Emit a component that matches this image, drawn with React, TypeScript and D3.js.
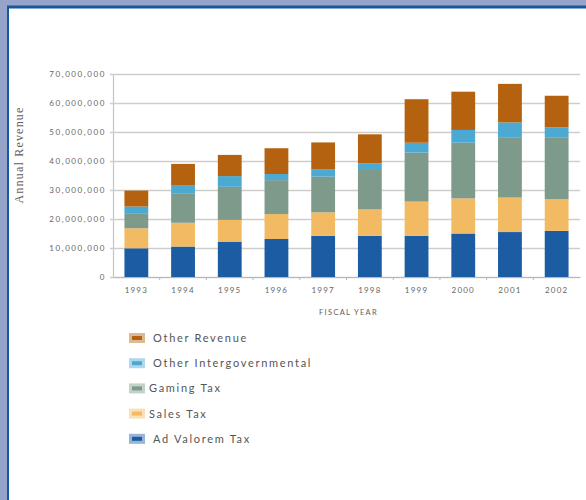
import { useEffect, useRef } from 'react';
import * as d3 from 'd3';

// fiscal years on the x axis
const years = ['1993', '1994', '1995', '1996', '1997', '1998', '1999', '2000', '2001', '2002'];

// revenue by source, in millions of dollars
const adValoremTax = [9.9, 10.5, 12.2, 13.1, 14.2, 14.2, 14.2, 15.0, 15.5, 15.9];
const salesTax = [6.9, 8.2, 7.5, 8.6, 8.1, 9.1, 11.8, 12.1, 11.9, 10.9];
const gamingTax = [5.2, 10.2, 11.4, 11.7, 12.3, 13.6, 16.9, 19.2, 20.8, 21.4];
const otherIntergovernmental = [2.3, 2.8, 3.7, 2.1, 2.6, 2.3, 3.4, 4.4, 5.1, 3.4];
const otherRevenue = [5.5, 7.3, 7.3, 8.9, 9.2, 10.0, 15.0, 13.2, 13.3, 10.9];

const yTicks = [0, 10, 20, 30, 40, 50, 60, 70];

const series = [
  { name: 'Ad Valorem Tax', values: adValoremTax, color: '#1b5ca3' },
  { name: 'Sales Tax', values: salesTax, color: '#f2ba62' },
  { name: 'Gaming Tax', values: gamingTax, color: '#7e9a8b' },
  { name: 'Other Intergovernmental', values: otherIntergovernmental, color: '#4ba9d2' },
  { name: 'Other Revenue', values: otherRevenue, color: '#b4620f' },
];

const W = 586;
const H = 500;

export default function App() {
  const svgRef = useRef<SVGSVGElement>(null);

  useEffect(() => {
    if (!svgRef.current) return;
    const svg = d3.select(svgRef.current);
    svg.selectAll('*').remove();

    // frame
    svg.append('rect').attr('width', W).attr('height', H).attr('fill', '#95a4c8');
    svg.append('rect').attr('x', 7).attr('y', 5.5).attr('width', W).attr('height', H).attr('fill', '#15589f');
    svg.append('rect').attr('x', 9).attr('y', 8.5).attr('width', W).attr('height', H).attr('fill', '#ffffff');

    const plotLeft = 113;
    const plotRight = 580;
    const plotTop = 74;
    const plotBottom = 277;

    const x = d3.scaleBand<string>().domain(years).range([plotLeft, plotRight]).paddingInner(0.49).paddingOuter(0.245);
    const y = d3.scaleLinear().domain([0, 70]).range([plotBottom, plotTop]);

    const sans = 'Lato, "Open Sans", sans-serif';

    // gridlines + y labels
    const yAxis = svg.append('g')
      .attr('transform', `translate(${plotLeft},0)`)
      .call(
        d3.axisLeft(y)
          .tickValues(yTicks)
          .tickSize(-(plotRight - plotLeft))
          .tickPadding(7)
          .tickFormat(d => (d === 0 ? '0' : d3.format(',')(+d * 1000000)))
      );
    yAxis.select('.domain').attr('stroke', '#c4c4c4').attr('stroke-width', 1.2);
    yAxis.selectAll('.tick line').attr('stroke', '#cdcdcd').attr('stroke-width', 1.6).attr('x1', -3);
    yAxis.selectAll('.tick text')
      .attr('fill', '#666')
      .attr('font-family', sans)
      .attr('font-size', 8)
      .attr('letter-spacing', 1.6);

    // stacked bars
    const table = years.map((yr, i) => {
      const row: Record<string, number | string> = { year: yr };
      series.forEach(s => { row[s.name] = s.values[i]; });
      return row;
    });
    const stack = d3.stack<Record<string, number | string>>()
      .keys(series.map(s => s.name))
      .value((d, k) => d[k] as number);
    const layers = stack(table);

    svg.append('g')
      .selectAll('g')
      .data(layers)
      .enter()
      .append('g')
      .attr('fill', (_, i) => series[i].color)
      .selectAll('rect')
      .data(d => d)
      .enter()
      .append('rect')
      .attr('x', d => x(d.data.year as string)!)
      .attr('width', x.bandwidth())
      .attr('y', d => y(d[1]))
      .attr('height', d => y(d[0]) - y(d[1]));

    // x axis
    const xAxis = svg.append('g')
      .attr('transform', `translate(0,${plotBottom})`)
      .call(d3.axisBottom(x).tickSize(0).tickPadding(10));
    xAxis.select('.domain').attr('stroke', '#b8b8b8').attr('stroke-width', 1.2);
    xAxis.selectAll('.tick text')
      .attr('fill', '#666')
      .attr('font-family', sans)
      .attr('font-size', 8)
      .attr('letter-spacing', 1.2);
    xAxis.selectAll('.sep')
      .data(years.slice(1))
      .enter()
      .append('line')
      .attr('class', 'sep')
      .attr('x1', d => x(d)! - (x.step() - x.bandwidth()) / 2)
      .attr('x2', d => x(d)! - (x.step() - x.bandwidth()) / 2)
      .attr('y1', 0)
      .attr('y2', 3)
      .attr('stroke', '#b8b8b8');

    svg.append('text')
      .attr('x', (plotLeft + plotRight) / 2 + 2)
      .attr('y', 315)
      .attr('text-anchor', 'middle')
      .attr('font-family', sans)
      .attr('font-size', 7.5)
      .attr('letter-spacing', 1.3)
      .attr('fill', '#5e5e5e')
      .text('FISCAL YEAR');

    svg.append('text')
      .attr('transform', 'translate(23,155) rotate(-90)')
      .attr('text-anchor', 'middle')
      .attr('font-family', '"Liberation Serif", serif')
      .attr('font-size', 12)
      .attr('letter-spacing', 1.2)
      .attr('fill', '#5e5e5e')
      .text('Annual Revenue');

    // legend, top entry is the top of the stack
    const legend = svg.append('g')
      .selectAll('g')
      .data(series.slice().reverse())
      .enter()
      .append('g')
      .attr('transform', (_, i) => `translate(129,${338 + i * 25.2})`);
    legend.append('rect')
      .attr('x', 0).attr('y', -5).attr('width', 16).attr('height', 10)
      .attr('fill', d => d.color).attr('opacity', 0.45);
    legend.append('rect')
      .attr('x', 3).attr('y', -2).attr('width', 10).attr('height', 4)
      .attr('fill', d => d.color);
    legend.append('text')
      .attr('x', d => (d.name === 'Gaming Tax' || d.name === 'Sales Tax' ? 20 : 24))
      .attr('y', 4)
      .attr('font-family', sans)
      .attr('font-size', 11)
      .attr('letter-spacing', 1.7)
      .attr('fill', '#555')
      .text(d => d.name);
  }, []);

  return (
    <svg
      ref={svgRef}
      width={W}
      height={H}
      style={{ position: 'absolute', left: 0, top: 0, display: 'block' }}
    />
  );
}
